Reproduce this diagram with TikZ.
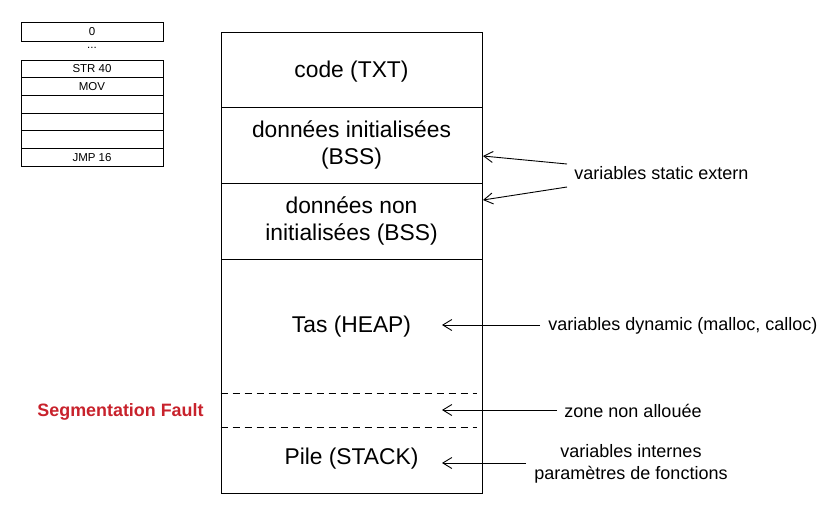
\documentclass[tikz,border=0pt]{standalone}
\usepackage{fontspec}
\setmainfont{Liberation Sans}
\usetikzlibrary{arrows.meta}
\definecolor{faultred}{RGB}{200,34,44}

\begin{document}
\begin{tikzpicture}[
    x=1pt, y=-1pt,
    every path/.append style={line width=0.9pt},
    >={Straight Barb[length=9pt,width=11pt]},
    seg/.style={draw, minimum width=261pt, inner sep=0pt, align=center,
        font=\fontsize{22.8}{27}\selectfont},
    cell/.style={draw, minimum width=142pt, minimum height=17.7pt, inner sep=0pt,
        font=\fontsize{11.5}{13}\selectfont},
    note/.style={inner sep=3pt, align=center, font=\fontsize{18}{22}\selectfont},
    gap/.style={dash pattern=on 7pt off 5pt}
]
    \useasboundingbox (0,0) rectangle (835,515);
    % instructions
    \node[cell, minimum height=19pt] (zero) at (92,31.5) {0};
    \node[font=\fontsize{11.5}{13}\selectfont] (dots) at (92,48) {...};
    \foreach \t [count=\i] in {STR 40,MOV,{},{},{},JMP 16}
        \node[cell] (r\i) at (92,51.2+\i*17.7) {\t};
    % memory
    \node[seg, minimum height=75pt] (code) at (351.5,69.5) {};
    \node[seg, draw=none] (codetxt) at (351.5,71.5) {code (TXT)};
    \node[seg, minimum height=76pt] (init) at (351.5,145) {données initialisées\\(BSS)};
    \node[seg, minimum height=76pt] (noninit) at (351.5,221) {données non\\initialisées (BSS)};
    \node[seg, minimum height=234pt] (low) at (351.5,376) {};
    \node[seg, draw=none] (heap) at (351.5,327) {Tas (HEAP)};
    \node[seg, draw=none] (stack) at (351.5,459) {Pile (STACK)};
    \draw[gap] (low.west |- 0,393) -- (477,393);
    \draw[gap] (low.west |- 0,427) -- (477,427);
    \node[font=\bfseries\fontsize{17.9}{21}\selectfont, text=faultred] (fault) at (120.5,411.5) {Segmentation Fault};
    % labels
    \coordinate (tinit) at (483,156);
    \coordinate (tnon) at (483,200);
    \coordinate (theap) at (442,325);
    \coordinate (tzone) at (442,410);
    \coordinate (tstack) at (442,463);
    \node[note, anchor=west] (static) at (571,173) {variables static extern};
    \node[note, anchor=west] (dyn) at (545,326) {variables dynamic (malloc, calloc)};
    \node[note, anchor=west] (zone) at (561,411) {zone non allouée};
    \node[note] (intern) at (631,464) {variables internes\\paramètres de fonctions};
    \draw[->] ([yshift=9pt,xshift=-4pt]static.west) -- (tinit);
    \draw[->] ([yshift=-14pt,xshift=-4pt]static.west) -- (tnon);
    \draw[->] ([xshift=-5pt,yshift=1pt]dyn.west) -- (theap);
    \draw[->] ([xshift=-4pt,yshift=1pt]zone.west) -- (tzone);
    \draw[->] ([xshift=-5pt,yshift=1pt]intern.west) -- (tstack);
\end{tikzpicture}
\end{document}
